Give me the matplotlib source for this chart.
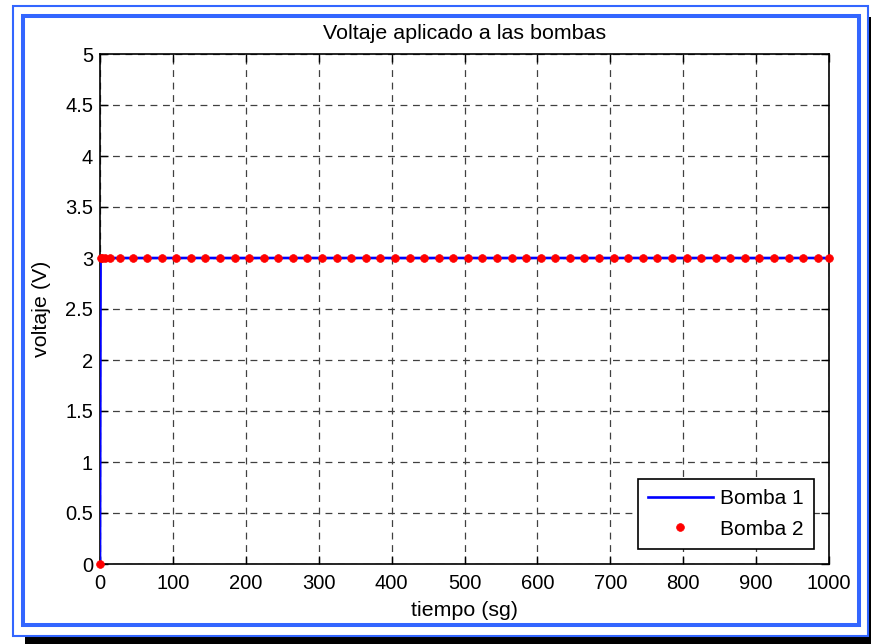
import matplotlib
matplotlib.use("Agg")
import matplotlib.pyplot as plt
from matplotlib.patches import Rectangle

# tiempos de integración (paso variable, luego paso máximo de 20 s)
tiempo = [0, 0.8, 2.5, 6.5, 13.5, 28.0] + [44.6 + 20 * k for k in range(48)] + [1000]
bomba1 = [0] + [3] * (len(tiempo) - 1)
bomba2 = [0] + [3] * (len(tiempo) - 1)

xticks = list(range(0, 1001, 100))
yticks = [0, 0.5, 1, 1.5, 2, 2.5, 3, 3.5, 4, 4.5, 5]
ytick_labels = ["0", "0.5", "1", "1.5", "2", "2.5", "3", "3.5", "4", "4.5", "5"]

W, H = 871, 644
plt.rcParams["font.family"] = ["Liberation Sans", "DejaVu Sans"]
fig = plt.figure(figsize=(W / 100, H / 100), dpi=100)
fig.patch.set_facecolor("white")


def px_rect(x0, y0, x1, y1, **kw):
    # rectangle given in pixel coords (origin top-left)
    return Rectangle((x0 / W, 1 - y1 / H), (x1 - x0) / W, (y1 - y0) / H,
                     transform=fig.transFigure, **kw)


frame = "#3366ff"
fig.patches.append(px_rect(25, 637, 871, 644, facecolor="black", edgecolor="none"))
fig.patches.append(px_rect(869, 17, 871, 644, facecolor="black", edgecolor="none"))
fig.patches.append(px_rect(13, 6, 868, 636, facecolor="none", edgecolor=frame, lw=1.5))
fig.patches.append(px_rect(23, 16, 859, 625, facecolor="none", edgecolor=frame, lw=2.9))

ax = fig.add_axes([100 / W, 1 - 564 / H, (829 - 100) / W, (564 - 54) / H])
ax.plot(tiempo, bomba1, color="#0000ff", lw=1.9, label="Bomba 1", zorder=3)
ax.plot(tiempo, bomba2, ls="none", marker="o", ms=5.6, mew=0.5, color="#ff0000",
        label="Bomba 2", zorder=4, clip_on=False)

ax.set_xlim(0, 1000)
ax.set_ylim(0, 5)
ax.set_xticks(xticks)
ax.set_yticks(yticks)
ax.set_yticklabels(ytick_labels)
ax.tick_params(direction="in", length=6, width=1, top=True, right=True,
               labelsize=14.5)
ax.tick_params(axis="x", pad=7)
ax.tick_params(axis="y", pad=5)
ax.grid(True, color="#404040", ls=(0, (5.5, 4.5)), lw=0.9)
for s in ax.spines.values():
    s.set_linewidth(1.2)

ax.set_title("Voltaje aplicado a las bombas", fontsize=15.4, pad=11)
ax.set_xlabel("tiempo (sg)", fontsize=15.4, labelpad=6)
ax.set_ylabel("voltaje (V)", fontsize=15.4, labelpad=10)

leg = ax.legend(loc="lower right", fontsize=15, fancybox=False, framealpha=1,
                edgecolor="black", borderaxespad=0.72, handlelength=3.1,
                handletextpad=0.35, borderpad=0.5, labelspacing=0.55)
leg.get_frame().set_linewidth(1.2)

fig.savefig("out.png", dpi=100)
